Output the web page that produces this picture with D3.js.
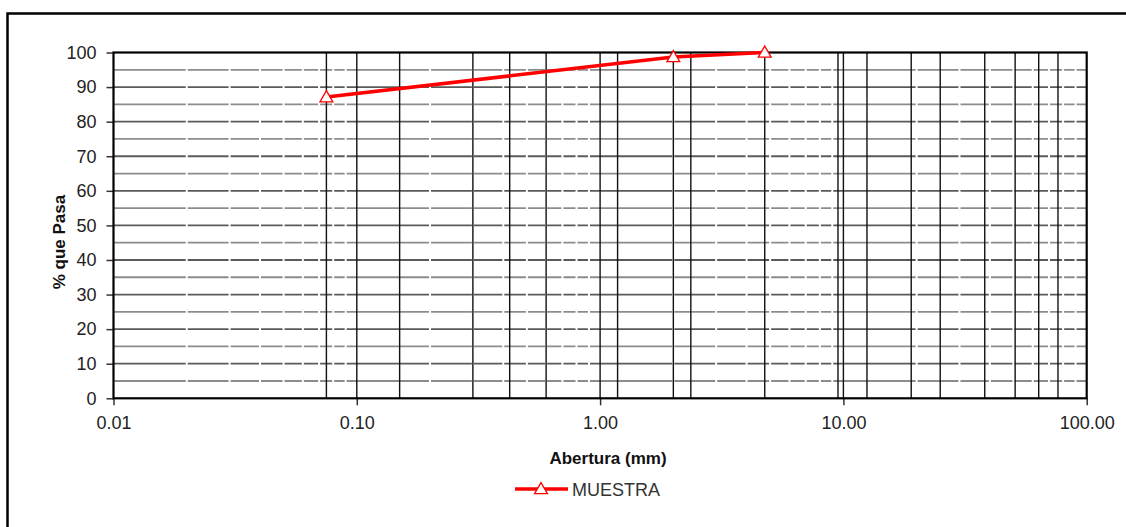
<!DOCTYPE html>
<html>
<head>
<meta charset="utf-8">
<script src="https://cdn.jsdelivr.net/npm/d3@7"></script>
<style>
  body { margin: 0; background: #fff; }
  svg { display: block; font-family: "Liberation Sans", Arial, sans-serif; }
</style>
</head>
<body>
<div id="chart"></div>
<script>
// curva granulometrica
const aberturas = [0.075, 2.0, 4.75];
const pasa = [87.1, 98.7, 100];
const serieName = "MUESTRA";
const tamices = [0.075, 0.15, 0.3, 0.425, 0.6, 1.18, 2.0, 2.36, 4.75, 9.5, 12.5, 19.0, 25.0, 38.1, 50.8, 63.5, 76.2];
const xTicks = [0.01, 0.1, 1, 10, 100];
const yTicks = [0, 10, 20, 30, 40, 50, 60, 70, 80, 90, 100];

let width = 1126,
    height = 527,
    margin = { top: 52.5, right: 39.3, bottom: 128.7, left: 113.5 };

const data = aberturas.map((a, i) => ({ a: a, p: pasa[i] }));

const svg = d3.select("#chart")
    .append("svg")
    .attr("width", width)
    .attr("height", height);

// outer frame (right/bottom fall outside the picture)
svg.append("rect")
    .attr("x", 7.5).attr("y", 13.5)
    .attr("width", width + 20).attr("height", height + 20)
    .attr("fill", "none").attr("stroke", "#000").attr("stroke-width", 2.5);

let x = d3.scaleLog()
    .domain([0.01, 100])
    .range([margin.left, width - margin.right]);

let y = d3.scaleLinear()
    .domain([0, 100])
    .range([height - margin.bottom, margin.top]);

// horizontal grid
const hMinor = d3.range(5, 100, 10);
const hMajor = d3.range(10, 100, 10);
svg.append("g")
    .selectAll("line")
    .data(hMinor)
    .join("line")
    .attr("x1", margin.left).attr("x2", width - margin.right)
    .attr("y1", d => y(d)).attr("y2", d => y(d))
    .attr("stroke", "#8c8c8c").attr("stroke-width", 1.8);
svg.append("g")
    .selectAll("line")
    .data(hMajor)
    .join("line")
    .attr("x1", margin.left).attr("x2", width - margin.right)
    .attr("y1", d => y(d)).attr("y2", d => y(d))
    .attr("stroke", "#5a5a5a").attr("stroke-width", 1.8);

// minor log gridlines are white in the original, they cut the horizontals
const minorLog = x.ticks().filter(d => !xTicks.includes(d));
svg.append("g")
    .selectAll("line")
    .data(minorLog)
    .join("line")
    .attr("x1", d => x(d)).attr("x2", d => x(d))
    .attr("y1", margin.top + 2).attr("y2", height - margin.bottom - 2)
    .attr("stroke", "#fff").attr("stroke-width", 2);

// sieve lines + decades
svg.append("g")
    .selectAll("line")
    .data(tamices.concat([0.1, 1, 10]))
    .join("line")
    .attr("x1", d => x(d)).attr("x2", d => x(d))
    .attr("y1", margin.top).attr("y2", height - margin.bottom)
    .attr("stroke", "#111").attr("stroke-width", 1.4);

// axes
svg.append("g")
    .attr("transform", `translate(0,${height - margin.bottom})`)
    .call(d3.axisBottom(x).tickValues(xTicks).tickFormat(d3.format(".2f")).tickSize(7).tickPadding(11))
    .call(g => g.select(".domain").remove())
    .call(g => g.selectAll("line").attr("stroke", "#333").attr("stroke-width", 1.5))
    .call(g => g.selectAll("text").attr("font-size", 18).attr("fill", "#222").attr("font-family", "Liberation Sans, Arial"));

svg.append("g")
    .attr("transform", `translate(${margin.left},0)`)
    .call(d3.axisLeft(y).tickValues(yTicks).tickSize(7).tickPadding(10))
    .call(g => g.select(".domain").remove())
    .call(g => g.selectAll("line").attr("stroke", "#333").attr("stroke-width", 1.5))
    .call(g => g.selectAll("text").attr("font-size", 18).attr("fill", "#222").attr("font-family", "Liberation Sans, Arial"));

// plot border
svg.append("rect")
    .attr("x", margin.left).attr("y", margin.top)
    .attr("width", width - margin.left - margin.right)
    .attr("height", height - margin.top - margin.bottom)
    .attr("fill", "none").attr("stroke", "#000").attr("stroke-width", 2.2);

// series
svg.append("path")
    .datum(data)
    .attr("fill", "none")
    .attr("stroke", "#ff0000")
    .attr("stroke-width", 3.5)
    .attr("d", d3.line().x(d => x(d.a)).y(d => y(d.p)));

const tri = d3.symbol().type(d3.symbolTriangle).size(72);
svg.append("g")
    .selectAll("path")
    .data(data)
    .join("path")
    .attr("transform", d => `translate(${x(d.a)},${y(d.p) + 1})`)
    .attr("d", tri)
    .attr("fill", "#fff")
    .attr("stroke", "#ff0000")
    .attr("stroke-width", 1.3);

// axis titles
svg.append("text")
    .attr("x", 608).attr("y", 464)
    .attr("text-anchor", "middle")
    .attr("font-size", 17).attr("font-weight", "bold")
    .attr("fill", "#111")
    .text("Abertura (mm)");

svg.append("text")
    .attr("transform", "translate(65,242) rotate(-90)")
    .attr("text-anchor", "middle")
    .attr("font-size", 17).attr("font-weight", "bold")
    .attr("fill", "#111")
    .text("% que Pasa");

// legend
const lg = svg.append("g").attr("transform", "translate(515,489)");
lg.append("line")
    .attr("x1", 0).attr("x2", 53)
    .attr("stroke", "#ff0000").attr("stroke-width", 3.5);
lg.append("path")
    .attr("transform", "translate(26,1)")
    .attr("d", tri)
    .attr("fill", "#fff").attr("stroke", "#ff0000").attr("stroke-width", 1.3);
lg.append("text")
    .attr("x", 57).attr("y", 6.5)
    .attr("font-size", 18).attr("fill", "#333")
    .text(serieName);
</script>
</body>
</html>
